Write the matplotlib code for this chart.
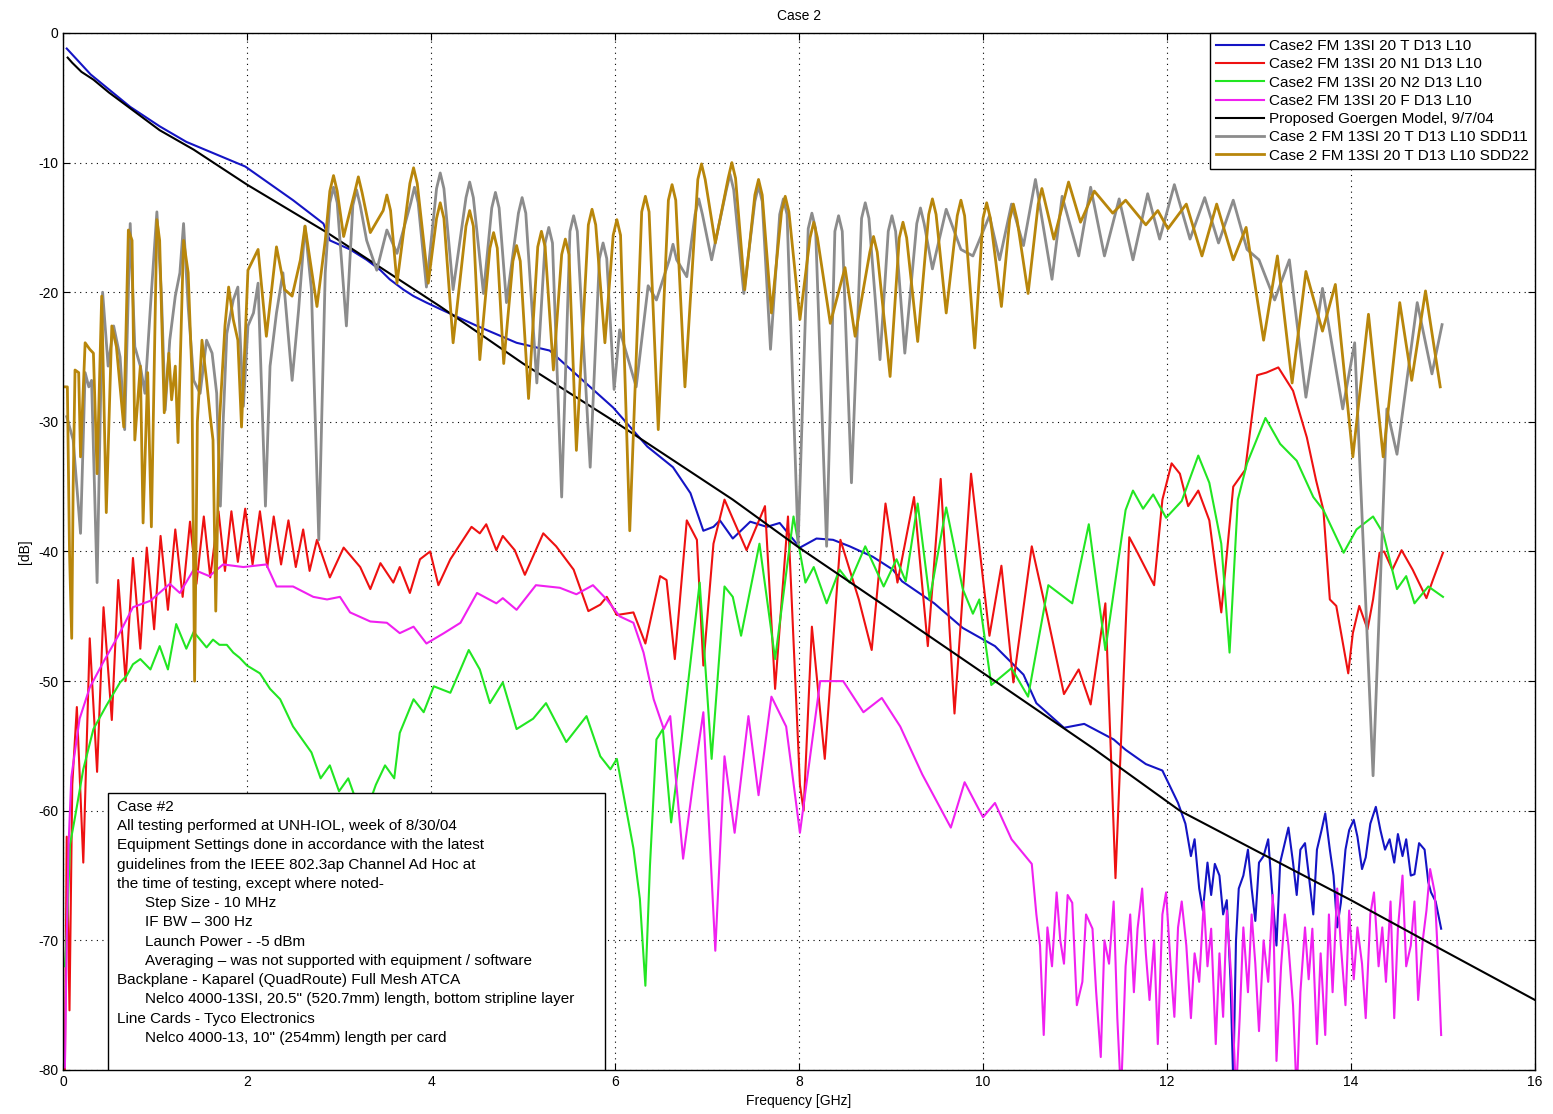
import matplotlib
matplotlib.use("Agg")
import matplotlib.pyplot as plt
from matplotlib.patches import Rectangle

plt.rcParams['font.family'] = ['Liberation Sans', 'DejaVu Sans']
plt.rcParams['axes.unicode_minus'] = False

# ---- data (frequency in GHz, loss in dB) ----
t_f = [0.04, 0.3, 0.73, 1.05, 1.34, 1.98, 2.5, 2.83, 2.9, 3.12, 3.3, 3.45, 3.55, 3.7, 3.81, 3.95,
       4.1, 4.5, 4.93, 5.29, 5.65, 5.98, 6.35, 6.63, 6.82, 6.96, 7.07, 7.14, 7.28, 7.47, 7.65, 7.79,
       8.01, 8.19, 8.37, 8.55, 8.8, 9.02, 9.12, 9.47, 9.78, 10.13, 10.44, 10.58, 10.88, 11.1, 11.42,
       11.55, 11.77, 11.95, 12.12, 12.2, 12.26, 12.3, 12.35, 12.39, 12.44, 12.48, 12.52, 12.57, 12.61,
       12.65, 12.69, 12.72, 12.75, 12.78, 12.83, 12.88, 12.92, 12.96, 13.0, 13.05, 13.1, 13.14, 13.19,
       13.23, 13.28, 13.32, 13.37, 13.41, 13.45, 13.5, 13.54, 13.59, 13.63, 13.68, 13.72, 13.77, 13.81,
       13.85, 13.89, 13.94, 13.98, 14.03, 14.07, 14.12, 14.16, 14.21, 14.27, 14.32, 14.37, 14.42,
       14.47, 14.51, 14.56, 14.6, 14.65, 14.69, 14.74, 14.8, 14.84, 14.87, 14.92, 14.98]
t_db = [-1.2, -3.2, -5.7, -7.2, -8.4, -10.3, -12.9, -14.7, -16.0, -16.7, -17.5, -18.3, -19.0, -19.8,
        -20.3, -20.8, -21.3, -22.6, -23.9, -24.5, -26.8, -28.9, -31.9, -33.5, -35.5, -38.4, -38.1,
        -37.6, -39.0, -37.7, -38.1, -37.8, -39.7, -39.0, -39.1, -39.6, -40.4, -41.4, -42.3, -44.0,
        -45.9, -47.3, -49.5, -51.7, -53.6, -53.3, -54.5, -55.3, -56.4, -56.9, -59.4, -61, -63.5,
        -62.2, -66, -67.7, -64, -66.5, -64.1, -65, -68, -66.9, -73, -81, -70, -66, -65, -63, -66,
        -68.5, -64, -63.5, -62.2, -66, -70.4, -64, -62.5, -61.3, -64, -66.5, -63, -62.5, -64.9, -68,
        -63, -61.5, -60.2, -63, -65, -69, -67.1, -63, -61.5, -60.7, -62, -64.5, -63.6, -61, -59.7,
        -61.5, -63, -62.2, -64, -61.8, -63.5, -62.2, -65, -64.9, -62.5, -63, -65.5, -66.3, -67, -69.1]

n1_f = [0.02, 0.04, 0.07, 0.1, 0.15, 0.22, 0.29, 0.37, 0.44, 0.53, 0.6, 0.68, 0.76, 0.84, 0.91, 0.99,
        1.06, 1.14, 1.22, 1.3, 1.38, 1.45, 1.53, 1.6, 1.69, 1.76, 1.83, 1.9, 1.98, 2.06, 2.14, 2.22,
        2.29, 2.37, 2.45, 2.53, 2.61, 2.68, 2.76, 2.9, 3.05, 3.23, 3.34, 3.45, 3.59, 3.66, 3.77, 3.88,
        3.99, 4.08, 4.21, 4.44, 4.53, 4.6, 4.71, 4.78, 4.91, 5.02, 5.22, 5.36, 5.55, 5.71, 5.84, 5.91,
        6.02, 6.2, 6.33, 6.49, 6.56, 6.65, 6.78, 6.89, 6.96, 7.07, 7.19, 7.43, 7.63, 7.74, 7.88, 8.01,
        8.05, 8.14, 8.28, 8.45, 8.65, 8.79, 8.94, 9.07, 9.25, 9.4, 9.54, 9.69, 9.87, 10.07, 10.2,
        10.33, 10.53, 10.7, 10.88, 11.04, 11.17, 11.33, 11.44, 11.59, 11.68, 11.86, 11.95, 12.05,
        12.14, 12.23, 12.34, 12.46, 12.59, 12.72, 12.85, 12.98, 13.08, 13.21, 13.37, 13.52, 13.62,
        13.7, 13.77, 13.84, 13.97, 14.02, 14.09, 14.18, 14.24, 14.31, 14.36, 14.45, 14.55, 14.67,
        14.82, 14.89, 15.0]
n1_db = [-80, -62, -75.4, -58, -52, -64, -46.7, -57, -44.3, -53, -42.2, -50, -40.5, -47.5, -39.7, -46,
         -38.8, -44.5, -38.3, -43.5, -37.7, -42.5, -37.3, -42, -36.9, -41.5, -36.9, -40.8, -36.7, -41,
         -36.9, -41.2, -37.3, -41, -37.6, -41.2, -38.3, -41.5, -39.1, -42, -39.7, -41.2, -42.9, -40.9,
         -42.4, -41.2, -43.2, -40.6, -40.0, -42.6, -40.6, -38.1, -38.6, -37.9, -39.9, -38.8, -39.9,
         -41.8, -38.6, -39.6, -41.4, -44.6, -44.1, -43.5, -44.9, -44.7, -47.1, -41.9, -42.2, -48.3,
         -37.6, -39.1, -48.8, -39.4, -36.0, -39.9, -36.5, -50.6, -37.3, -58, -60, -45.8, -56, -39.1,
         -43.7, -47.6, -36.3, -42.4, -35.8, -47.3, -34.4, -52.5, -34.0, -46.5, -41.1, -50.1, -39.6,
         -45, -51, -49.1, -51.8, -44, -65.2, -38.9, -40.1, -42.6, -36, -33.2, -34, -36.5, -35.3,
         -37.6, -44.7, -35, -33.7, -26.4, -26.2, -25.8, -27.6, -31.2, -34.5, -36.8, -43.7, -44.2,
         -49.4, -46.3, -44.2, -46, -43.7, -40.1, -40, -41.4, -39.9, -41.4, -43.6, -42.2, -40.1]

n2_f = [0.02, 0.04, 0.076, 0.13, 0.22, 0.33, 0.47, 0.62, 0.69, 0.76, 0.84, 0.95, 1.05, 1.14, 1.23,
        1.34, 1.42, 1.49, 1.56, 1.63, 1.7, 1.78, 1.85, 1.92, 2.0, 2.14, 2.25, 2.36, 2.5, 2.6, 2.7, 2.8,
        2.9, 3.0, 3.1, 3.2, 3.3, 3.4, 3.5, 3.6, 3.66, 3.81, 3.92, 4.03, 4.21, 4.32, 4.41, 4.53, 4.64,
        4.78, 4.93, 5.11, 5.25, 5.47, 5.69, 5.84, 5.95, 6.02, 6.2, 6.27, 6.33, 6.38, 6.45, 6.52, 6.61,
        6.72, 6.92, 7.05, 7.19, 7.28, 7.37, 7.57, 7.74, 7.94, 8.07, 8.16, 8.3, 8.44, 8.55, 8.72, 8.92,
        9.06, 9.16, 9.29, 9.42, 9.6, 9.78, 9.89, 9.96, 10.09, 10.31, 10.49, 10.71, 10.97, 11.15,
        11.33, 11.55, 11.63, 11.74, 11.85, 11.99, 12.16, 12.34, 12.46, 12.59, 12.68, 12.77, 12.87,
        13.07, 13.23, 13.41, 13.59, 13.7, 13.92, 14.06, 14.24, 14.35, 14.5, 14.6, 14.69, 14.84, 15.0]
n2_db = [-72, -69.6, -62.6, -60.5, -56.8, -53.7, -51.9, -50.1, -49.6, -48.7, -48.3, -49.1, -47.3,
         -49.1, -45.6, -47.5, -46.2, -46.8, -47.4, -46.8, -47.2, -47.2, -47.8, -48.2, -48.8, -49.4,
         -50.6, -51.4, -53.5, -54.5, -55.5, -57.5, -56.5, -58.5, -57.5, -59.5, -60, -58, -56.5, -57.5,
         -54, -51.4, -52.4, -50.4, -50.9, -49.1, -47.6, -49.1, -51.7, -50.1, -53.7, -52.9, -51.7,
         -54.7, -52.7, -55.8, -56.8, -56, -62.9, -66.8, -73.5, -64.2, -54.5, -53.7, -60.9, -54.7,
         -42.4, -56, -42.7, -43.5, -46.5, -39.4, -48.3, -37.3, -42.4, -41.2, -44, -41.4, -42.4, -39.6,
         -42.7, -40.6, -42.3, -36.3, -43.7, -36.6, -42.9, -44.8, -43.7, -50.3, -49, -51.2, -42.6, -44,
         -37.9, -47.6, -36.8, -35.3, -36.7, -35.6, -37.4, -36.1, -32.6, -34.7, -39.4, -47.8, -36,
         -33.2, -29.7, -31.7, -33, -35.8, -36.8, -40.1, -38.3, -37.3, -38.6, -42.9, -41.9, -44, -42.7,
         -43.5]

fx_f = [0.02, 0.04, 0.06, 0.09, 0.18, 0.29, 0.44, 0.6, 0.76, 0.95, 1.16, 1.27, 1.42, 1.59, 1.74,
        1.96, 2.21, 2.32, 2.5, 2.72, 2.87, 3.01, 3.12, 3.34, 3.52, 3.66, 3.81, 3.95, 4.14, 4.32, 4.5,
        4.71, 4.78, 4.93, 5.14, 5.4, 5.58, 5.76, 5.91, 6.05, 6.2, 6.31, 6.42, 6.53, 6.6, 6.74, 6.85,
        6.96, 7.09, 7.19, 7.3, 7.45, 7.56, 7.7, 7.86, 8.01, 8.23, 8.48, 8.7, 8.9, 9.1, 9.34, 9.65, 9.8,
        10.0, 10.13, 10.31, 10.53, 10.58, 10.62, 10.66, 10.7, 10.75, 10.8, 10.84, 10.88, 10.92, 10.97,
        11.02, 11.08, 11.12, 11.19, 11.23, 11.28, 11.32, 11.37, 11.42, 11.46, 11.5, 11.55, 11.6,
        11.64, 11.68, 11.73, 11.77, 11.81, 11.86, 11.9, 11.95, 11.99, 12.04, 12.08, 12.12, 12.16,
        12.21, 12.26, 12.3, 12.35, 12.4, 12.44, 12.48, 12.53, 12.57, 12.61, 12.65, 12.7, 12.75, 12.79,
        12.83, 12.88, 12.92, 12.96, 13.0, 13.05, 13.1, 13.15, 13.19, 13.24, 13.28, 13.32, 13.37,
        13.41, 13.45, 13.5, 13.54, 13.58, 13.63, 13.67, 13.72, 13.76, 13.8, 13.85, 13.89, 13.94,
        13.98, 14.03, 14.07, 14.12, 14.16, 14.21, 14.25, 14.3, 14.34, 14.38, 14.43, 14.47, 14.51,
        14.56, 14.6, 14.65, 14.69, 14.73, 14.78, 14.82, 14.86, 14.91, 14.95, 14.98]
fx_db = [-79.8, -70, -62.6, -57.4, -52.9, -50.5, -48.5, -46.5, -44.3, -43.8, -42.5, -43.2, -41.4,
         -41.9, -41, -41.2, -41, -42.7, -42.7, -43.5, -43.7, -43.5, -44.7, -45.4, -45.5, -46.3, -45.8,
         -47.1, -46.3, -45.5, -43.2, -44, -43.6, -44.5, -42.6, -42.8, -43.3, -42.6, -43.7, -45, -45.5,
         -47.8, -51.4, -53.7, -52.7, -63.7, -57.8, -52.4, -70.8, -55.8, -61.7, -52.7, -58.8, -51.2,
         -53.5, -61.7, -50, -50, -52.4, -51.3, -53.5, -57.2, -61.3, -57.8, -60.5, -59.4, -62.2, -64.1,
         -68, -70.4, -77.3, -69, -72, -66.3, -70, -71.8, -66.5, -67.1, -75, -73.2, -68, -69.1, -74,
         -79, -70, -71.8, -67, -76, -82, -72, -68, -74, -69.1, -66, -71, -74.6, -70, -78, -68, -66.3,
         -72, -75.9, -69, -67, -70.4, -76, -71, -73.2, -67, -72, -69.1, -78, -71, -75.9, -67.7, -73,
         -82, -76, -69, -74, -68, -71.8, -77, -70, -73.2, -66.5, -79.3, -72, -68, -70.4, -75, -82,
         -74, -69, -73, -69.1, -78, -71, -77.3, -68, -74, -66, -70.4, -75, -67.7, -73, -69, -71.8,
         -76, -68, -66.3, -72, -69, -73.2, -67, -76, -69.1, -65, -72, -70.4, -67, -74.6, -70, -67.7,
         -64.5, -66.3, -72, -77.3]

model_f = [0.05, 0.1, 0.2, 0.33, 0.5, 0.69, 1.05, 1.42, 2.0, 2.87, 4.1, 5.0, 6.0, 7.28, 8.0, 9.1,
           10.13, 11.2, 12.14, 13.0, 14.0, 14.8, 16.0]
model_db = [-1.9, -2.3, -3.0, -3.6, -4.6, -5.6, -7.5, -9.0, -11.7, -15.4, -21.1, -25.5, -30.0, -36.0,
            -39.7, -45.0, -50.0, -55.2, -60.0, -63.2, -66.9, -70.0, -74.6]

s11_f = [0.04, 0.11, 0.19, 0.24, 0.28, 0.31, 0.37, 0.43, 0.49, 0.55, 0.62, 0.67, 0.73, 0.78, 0.84,
         0.89, 0.95, 1.02, 1.07, 1.11, 1.16, 1.22, 1.27, 1.31, 1.36, 1.42, 1.49, 1.56, 1.62, 1.67, 1.71,
         1.74, 1.78, 1.85, 1.9, 1.96, 2.01, 2.07, 2.12, 2.2, 2.25, 2.32, 2.39, 2.49, 2.56, 2.63, 2.7,
         2.78, 2.85, 2.9, 2.94, 2.98, 3.08, 3.15, 3.19, 3.23, 3.3, 3.41, 3.52, 3.63, 3.78, 3.82, 3.86,
         3.95, 4.06, 4.1, 4.14, 4.24, 4.38, 4.42, 4.46, 4.57, 4.66, 4.7, 4.74, 4.82, 4.95, 4.99, 5.03,
         5.15, 5.24, 5.28, 5.32, 5.42, 5.51, 5.55, 5.59, 5.73, 5.83, 5.87, 5.91, 5.99, 6.05, 6.23,
         6.36, 6.45, 6.59, 6.63, 6.67, 6.78, 6.87, 6.91, 6.95, 7.05, 7.21, 7.25, 7.29, 7.4, 7.52,
         7.56, 7.6, 7.69, 7.79, 7.83, 7.87, 7.99, 8.1, 8.14, 8.18, 8.3, 8.39, 8.43, 8.47, 8.57, 8.68,
         8.72, 8.76, 8.88, 8.97, 9.01, 9.05, 9.15, 9.28, 9.32, 9.36, 9.45, 9.6, 9.76, 9.89, 10.07,
         10.18, 10.31, 10.44, 10.57, 10.75, 10.86, 11.04, 11.17, 11.32, 11.48, 11.63, 11.79, 11.92,
         12.08, 12.25, 12.41, 12.56, 12.72, 12.87, 13.0, 13.17, 13.33, 13.51, 13.69, 13.91, 14.04,
         14.24, 14.39, 14.5, 14.72, 14.88, 14.99]
s11_db = [-29.6, -31.4, -38.6, -26.2, -27.3, -26.8, -42.4, -20, -25.7, -22.6, -25, -30.6, -14.7, -24.2,
          -25.7, -27.8, -21.1, -13.8, -20.3, -29.1, -23.7, -20.3, -18.5, -14.7, -21.1, -26.8, -27.8,
          -23.7, -24.7, -27.8, -36.5, -30.1, -23.2, -20.6, -19.6, -28.8, -22.6, -21.6, -19.3, -36.5,
          -25.7, -21.6, -18.5, -26.8, -21.4, -14.9, -19.8, -39.1, -18.5, -13.1, -11.9, -13.1, -22.6,
          -13.3, -12.1, -13.3, -16, -18.3, -15.2, -17, -13.1, -11.9, -13.1, -19.6, -12, -10.8, -12,
          -19.8, -12.7, -11.5, -12.7, -20.1, -13.5, -12.3, -13.5, -20.8, -13.9, -12.7, -13.9, -27,
          -16.2, -15, -16.2, -35.8, -15.3, -14.1, -15.3, -33.5, -17.4, -16.2, -17.4, -27.5, -22.9,
          -27.3, -19.5, -20.6, -17.5, -16.3, -17.5, -18.8, -14, -12.8, -14, -17.5, -12.1, -10.9,
          -12.1, -20.1, -13, -11.8, -13, -24.4, -14, -12.8, -14, -39.4, -15.1, -13.9, -15.1, -39.6,
          -15.3, -14.1, -15.3, -34.7, -14.3, -13.1, -14.3, -25.2, -15.3, -14.1, -15.3, -24.7, -14.7,
          -13.5, -14.7, -18.2, -13.6, -16.7, -17.2, -14.1, -17.5, -13.2, -16.4, -11.3, -19, -12.6,
          -17.2, -11.9, -17.2, -12.8, -17.5, -12.4, -15.9, -11.7, -15.9, -12.7, -16.2, -12.9, -16.7,
          -17.5, -20.6, -17.5, -28.1, -19.7, -29, -23.9, -57.3, -29, -32.5, -20.8, -26.3, -22.5]

s22_f = [0.02, 0.047, 0.07, 0.094, 0.11, 0.13, 0.17, 0.19, 0.24, 0.29, 0.33, 0.37, 0.42, 0.47, 0.53,
         0.58, 0.66, 0.71, 0.75, 0.78, 0.84, 0.87, 0.92, 0.96, 1.02, 1.05, 1.1, 1.15, 1.18, 1.22, 1.25,
         1.31, 1.36, 1.4, 1.43, 1.46, 1.51, 1.56, 1.6, 1.63, 1.66, 1.7, 1.76, 1.8, 1.85, 1.9, 1.94, 2.01,
         2.12, 2.21, 2.32, 2.41, 2.49, 2.58, 2.63, 2.76, 2.85, 2.9, 2.94, 2.98, 3.05, 3.17, 3.21, 3.25,
         3.34, 3.48, 3.52, 3.56, 3.63, 3.77, 3.81, 3.85, 3.97, 4.06, 4.1, 4.14, 4.24, 4.38, 4.42, 4.46,
         4.53, 4.64, 4.68, 4.72, 4.79, 4.89, 4.93, 4.97, 5.06, 5.16, 5.2, 5.24, 5.33, 5.42, 5.46, 5.5,
         5.58, 5.71, 5.75, 5.79, 5.89, 5.98, 6.02, 6.06, 6.16, 6.29, 6.33, 6.37, 6.47, 6.58, 6.62,
         6.66, 6.76, 6.9, 6.94, 6.98, 7.09, 7.23, 7.27, 7.31, 7.41, 7.52, 7.56, 7.6, 7.7, 7.81, 7.85,
         7.89, 8.01, 8.12, 8.16, 8.2, 8.34, 8.5, 8.61, 8.77, 8.81, 8.85, 8.99, 9.09, 9.13, 9.17, 9.29,
         9.41, 9.45, 9.49, 9.6, 9.72, 9.76, 9.8, 9.91, 10.0, 10.04, 10.08, 10.2, 10.29, 10.33, 10.37,
         10.49, 10.6, 10.64, 10.68, 10.77, 10.93, 11.06, 11.21, 11.41, 11.55, 11.77, 11.9, 12.01,
         12.21, 12.38, 12.54, 12.72, 12.86, 13.05, 13.2, 13.36, 13.51, 13.69, 13.83, 14.02, 14.19,
         14.35, 14.53, 14.66, 14.81, 14.97]
s22_db = [-27.3, -27.3, -40, -46.7, -35, -26, -26.2, -32.7, -23.9, -24.4, -24.7, -34, -20.3, -37,
          -22.6, -24.2, -30.4, -15.2, -16, -31.4, -25.7, -37.8, -26.2, -38.1, -14.4, -16, -29.3, -24.7,
          -28.3, -25.7, -31.6, -16, -18.5, -26.2, -50, -30, -23.7, -26.8, -29.6, -31.4, -44.6, -30,
          -22.6, -19.6, -22.1, -23.7, -30.4, -18.3, -16.7, -23.4, -16.5, -19.8, -20.3, -17.5, -14.9,
          -21.1, -16, -12.2, -11, -12.2, -15.7, -12.3, -11.1, -12.3, -15.4, -13.7, -12.5, -13.7, -19.3,
          -11.6, -10.4, -11.6, -19.3, -14.3, -13.1, -14.3, -23.9, -14.9, -13.7, -14.9, -25.2, -16.6,
          -15.4, -16.6, -25.5, -17.6, -16.4, -17.6, -28.2, -16.5, -15.3, -16.5, -26, -17.1, -15.9,
          -17.1, -32.2, -14.8, -13.6, -14.8, -23.9, -15.6, -14.4, -15.6, -38.4, -13.8, -12.6, -13.8,
          -30.6, -12.9, -11.7, -12.9, -27.3, -11.3, -10.1, -11.3, -16.2, -11.2, -10, -11.2, -19.8,
          -12.5, -11.3, -12.5, -21.6, -13.8, -12.6, -13.8, -22.1, -15.8, -14.6, -15.8, -22.4, -18.1,
          -23.4, -16.9, -15.7, -16.9, -26.5, -15.8, -14.6, -15.8, -23.8, -14, -12.8, -14, -21.6,
          -14.1, -12.9, -14.1, -24.3, -14.3, -13.1, -14.3, -21.1, -14.4, -13.2, -14.4, -20.1, -13.2,
          -12, -13.2, -15.9, -11.5, -14.6, -12.2, -13.9, -12.9, -14.8, -13.7, -15.1, -13.2, -17.2,
          -13.2, -17.5, -15, -23.7, -17.2, -27, -18.4, -23, -19.4, -32.7, -21.7, -32.7, -20.8, -26.8,
          -19.9, -27.3]

series = [
    (t_f, t_db, '#1414c4', 1.5, 'Case2 FM 13SI 20 T D13 L10'),
    (n1_f, n1_db, '#ee1111', 1.5, 'Case2 FM 13SI 20 N1 D13 L10'),
    (n2_f, n2_db, '#22e622', 1.5, 'Case2 FM 13SI 20 N2 D13 L10'),
    (fx_f, fx_db, '#f020f0', 1.5, 'Case2 FM 13SI 20 F D13 L10'),
    (model_f, model_db, 'black', 1.5, 'Proposed Goergen Model, 9/7/04'),
    (s11_f, s11_db, '#8c8c8c', 2.0, 'Case 2 FM 13SI 20 T D13 L10 SDD11'),
    (s22_f, s22_db, '#b8860b', 2.0, 'Case 2 FM 13SI 20 T D13 L10 SDD22'),
]

note_lines = [
    (0, 'Case #2'),
    (0, 'All testing performed at UNH-IOL, week of 8/30/04'),
    (0, 'Equipment Settings done in accordance with the latest'),
    (0, 'guidelines from the IEEE 802.3ap Channel Ad Hoc at'),
    (0, 'the time of testing, except where noted-'),
    (1, 'Step Size - 10 MHz'),
    (1, 'IF BW \u2013 300 Hz'),
    (1, 'Launch Power - -5 dBm'),
    (1, 'Averaging \u2013 was not supported with equipment / software'),
    (0, 'Backplane - Kaparel (QuadRoute) Full Mesh ATCA'),
    (1, 'Nelco 4000-13SI, 20.5" (520.7mm) length, bottom stripline layer'),
    (0, 'Line Cards - Tyco Electronics'),
    (1, 'Nelco 4000-13, 10" (254mm) length per card'),
]

fig = plt.figure(figsize=(15.53, 11.14), dpi=100)
ax = fig.add_axes([0.0406, 0.0395, 0.9478, 0.9309])

for f, db, col, lw, lab in series:
    ax.plot(f, db, color=col, lw=lw, label=lab)

ax.set_xlim(0, 16)
ax.set_ylim(-80, 0)
ax.set_xticks(range(0, 17, 2))
ax.set_yticks(range(-80, 1, 10))
ax.grid(True, linestyle=(0, (1, 4)), color='black', lw=0.8)
ax.tick_params(direction='in', top=True, right=True, length=5, labelsize=10)
for sp in ax.spines.values():
    sp.set_linewidth(1.0)

ax.set_title('Case 2', fontsize=10, pad=9)
ax.set_xlabel('Frequency [GHz]', fontsize=10, labelpad=4)
ax.set_ylabel('[dB]', fontsize=10, labelpad=4)

leg = ax.legend(loc='upper right', borderaxespad=0, fontsize=11, handlelength=3.1,
                handletextpad=0.35, labelspacing=0.28, borderpad=0.4, fancybox=False,
                framealpha=1, edgecolor='black')
leg.get_frame().set_linewidth(1.0)
leg.set_zorder(10)

# annotation box at lower left
ax.add_patch(Rectangle((0.0306, 0.0), 0.3376, 0.267, transform=ax.transAxes,
                       facecolor='white', edgecolor='black', lw=1.0, zorder=8))
for i, (indent, txt) in enumerate(note_lines):
    ax.text(0.0367 + indent * 0.019, 0.2536 - i * 0.01855, txt, transform=ax.transAxes,
            fontsize=11, va='center', ha='left', zorder=9)

fig.savefig('out.png', dpi=100)
